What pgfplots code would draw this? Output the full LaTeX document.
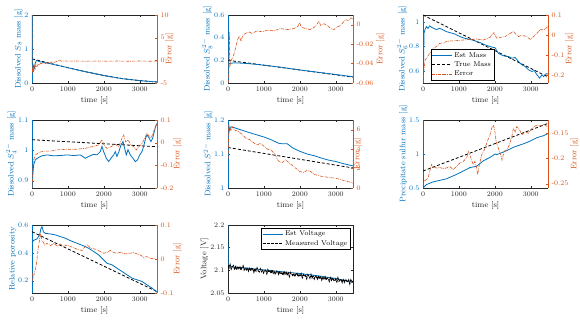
\documentclass[border=0pt]{standalone}
\usepackage{pgfplots}
\pgfplotsset{compat=1.18}
\definecolor{mblue}{rgb}{0,0.447,0.741}
\definecolor{morange}{rgb}{0.85,0.325,0.098}
\definecolor{mgray}{rgb}{0.15,0.15,0.15}
\tikzset{mult/.style={font=\fontsize{6}{7}\selectfont, inner sep=1pt, yshift=4pt}}
\pgfplotsset{
 base/.style={scale only axis, width=125pt, height=68pt, xmin=0, xmax=3480,
   xtick={0,1000,2000,3000}, xticklabels={0,1000,2000,3000},
   tick align=inside, major tick length=2pt,
   tick label style={font=\fontsize{7}{8}\selectfont},
   label style={font=\fontsize{8}{9}\selectfont},
   scaled ticks=false, yticklabel style={/pgf/number format/fixed, /pgf/number format/assume math mode=true},
   axis line style={line width=0.4pt}, anchor=south west,
   legend image code/.code={\draw[#1] (0cm,0cm) -- (0.7cm,0cm);}},
 L/.style={base, axis x line*=box, axis y line*=left, xlabel={time [s]},
   x axis line style={mgray}, y axis line style={mblue},
   xtick style={mgray}, ytick style={mblue},
   yticklabel style={mblue}, ylabel style={mblue},
   xticklabel style={mgray}, xlabel style={mgray}, ylabel shift=-5pt, xlabel shift=-2pt},
 R/.style={base, axis x line=none, axis y line*=right,
   y axis line style={morange}, ytick style={morange},
   yticklabel style={morange}, ylabel style={morange}, ylabel={Error [g]}},
 bl/.style={mblue, line width=0.8pt},
 bk/.style={black, line width=0.8pt, dash pattern=on 3pt off 2pt},
 er/.style={morange, line width=0.6pt, dash pattern=on 3pt off 1pt on 0.6pt off 1pt},
}
\begin{document}
\begin{tikzpicture}
\path[use as bounding box] (0,0) rectangle (580pt,319pt);

% ---------- Panel 1: S8 ----------
\begin{axis}[L, at={(32pt,236pt)}, ymin=0, ymax=2, ytick={0,1,2}, ylabel={Dissolved $S_8$ mass [g]}]
\addplot[bk] coordinates {(0,0.71) (500,0.58) (1000,0.45) (1500,0.33) (2000,0.22) (2500,0.13) (3000,0.07) (3480,0.03)};
\addplot[bl] coordinates {(0,2.0) (4,1.2) (8,0.62) (15,0.45) (25,0.55) (40,0.5) (55,0.4) (70,0.46) (90,0.58) (120,0.66) (160,0.65) (200,0.63) (250,0.62) (300,0.61) (350,0.6) (400,0.59) (450,0.58) (500,0.57) (600,0.545) (700,0.52) (800,0.5) (900,0.475) (1000,0.45) (1500,0.33) (2000,0.22) (2500,0.13) (3000,0.07) (3480,0.03)};
\node[mult, mblue, anchor=south west] at (rel axis cs:0,1) {$\times10^{-4}$};
\end{axis}
\begin{axis}[R, ylabel shift=-10pt, at={(32pt,236pt)}, ymin=-5, ymax=10, ytick={-5,0,5,10}]
\addplot[er] coordinates {(0,10) (3,-1) (8,-2.5) (15,-1.8) (25,-3) (35,-1.5) (50,-2.2) (70,-1.2) (90,-1.8) (110,-1.0) (140,-1.5) (170,-0.9) (200,-1.1) (240,-0.6) (280,-0.8) (320,-0.5) (380,-0.7) (440,-0.4) (500,-0.6) (560,-0.3) (620,-0.5) (700,-0.2) (760,0.1) (820,-0.2) (900,-0.1) (1000,-0.2) (1200,-0.15) (1500,-0.2) (1800,-0.15) (2100,-0.2) (2400,-0.15) (2700,-0.2) (3000,-0.15) (3300,-0.2) (3480,-0.15)};
\node[mult, morange, anchor=south west] at (rel axis cs:1,1) {$\times10^{-3}$};
\end{axis}

% ---------- Panel 2: S8^2- ----------
\begin{axis}[L, at={(228pt,236pt)}, ymin=0, ymax=0.6, ytick={0,0.2,0.4,0.6}, ylabel={Dissolved $S_8^{2-}$ mass [g]}]
\addplot[bk] coordinates {(0,0.2) (3480,0.052)};
\addplot[bl] coordinates {(0,0.17) (100,0.175) (200,0.178) (300,0.176) (400,0.175) (500,0.172) (600,0.17) (800,0.164) (1000,0.157) (1500,0.138) (2000,0.115) (2500,0.095) (3000,0.075) (3480,0.055)};
\end{axis}
\begin{axis}[R, ylabel shift=-4pt, at={(228pt,236pt)}, ymin=-0.06, ymax=0.01, ytick={-0.06,-0.04,-0.02,0}]
\addplot[er] coordinates {(0,-0.06) (19,-0.057) (37,-0.0073) (56,-0.042) (84,-0.037) (130,-0.034) (177,-0.029) (223,-0.022) (270,-0.015) (316,-0.012) (363,-0.017) (409,-0.011) (484,-0.009) (577,-0.0073) (670,-0.009) (809,-0.0063) (949,-0.0073) (1088,-0.0057) (1275,-0.0063) (1461,-0.004) (1647,-0.005) (1833,-0.004) (1945,-0.0017) (1991,0.0023) (2038,-0.0023) (2159,-0.004) (2299,-0.005) (2410,-0.0023) (2484,0.001) (2531,0.0037) (2578,-0.0007) (2671,0.001) (2764,-0.0007) (2857,-0.004) (2950,-0.005) (3043,-0.0023) (3136,-0.0007) (3210,0.0027) (3275,0.005) (3368,0.0043) (3415,0.007) (3480,0.006)};
\end{axis}

% ---------- Panel 3: S6^2- ----------
\begin{axis}[L, at={(423pt,236pt)}, ymin=0.5, ymax=1.06, ytick={0.6,0.8,1}, ylabel={Dissolved $S_6^{2-}$ mass [g]}]
\addplot[bk] coordinates {(0,1.06) (3480,0.55)};
\addplot[bl] coordinates {(0,0.5) (9,0.51) (28,0.91) (56,0.94) (93,0.964) (140,0.95) (187,0.97) (233,0.96) (299,0.95) (373,0.94) (466,0.95) (560,0.937) (653,0.923) (746,0.915) (886,0.904) (1026,0.882) (1166,0.868) (1306,0.86) (1446,0.847) (1586,0.833) (1726,0.814) (1866,0.8) (2006,0.79) (2099,0.745) (2192,0.73) (2285,0.72) (2379,0.718) (2472,0.704) (2565,0.71) (2658,0.677) (2751,0.65) (2845,0.636) (2938,0.608) (3031,0.595) (3097,0.603) (3172,0.567) (3246,0.54) (3311,0.567) (3358,0.553) (3423,0.575) (3480,0.575)};
\end{axis}
\begin{axis}[R, ylabel shift=-6pt, at={(423pt,236pt)}, ymin=-0.24, ymax=0.1, ytick={-0.2,-0.1,0,0.1},
  legend style={font=\fontsize{7}{8}\selectfont, draw=black, line width=0.4pt, at={(0.06,0.04)}, anchor=south west, inner sep=1pt, row sep=-1pt},
  legend cell align=left]
\addlegendimage{bl}\addlegendentry{Est Mass}
\addlegendimage{bk}\addlegendentry{True Mass}
\addplot[er] coordinates {(0,-0.24) (9,-0.225) (28,-0.17) (60,-0.125) (93,-0.117) (187,-0.092) (280,-0.067) (373,-0.058) (466,-0.042) (560,-0.04) (653,-0.033) (746,-0.03) (933,-0.028) (1119,-0.025) (1306,-0.022) (1493,-0.02) (1679,-0.025) (1866,-0.012) (1978,0.012) (2052,-0.017) (2145,-0.012) (2285,-0.008) (2425,0.008) (2519,0.017) (2565,0.008) (2658,-0.008) (2751,-0.001) (2891,-0.008) (2984,-0.022) (3078,-0.008) (3172,0.008) (3265,0.028) (3358,0.025) (3423,0.033) (3480,0.045)};
\addlegendentry{Error}
\end{axis}

% ---------- Panel 4: S4^2- ----------
\begin{axis}[L, at={(32pt,131pt)}, ymin=0.876, ymax=1.1, ytick={0.9,1,1.1}, ylabel={Dissolved $S_4^{2-}$ mass [g]}]
\addplot[bk] coordinates {(0,1.035) (3480,1.012)};
\addplot[bl] coordinates {(0,0.88) (9,0.892) (28,0.93) (46,0.952) (93,0.969) (186,0.977) (278,0.982) (418,0.985) (603,0.982) (789,0.983) (974,0.985) (1160,0.983) (1345,0.985) (1484,0.974) (1577,0.98) (1716,0.987) (1809,0.985) (1902,0.996) (1948,1.013) (1994,0.996) (2069,0.974) (2134,0.963) (2198,0.974) (2273,0.985) (2319,0.996) (2365,0.98) (2421,0.996) (2477,1.018) (2533,1.029) (2579,1.007) (2626,0.985) (2672,1.002) (2737,0.985) (2811,0.974) (2876,0.963) (2941,0.969) (2997,0.985) (3062,0.996) (3108,1.013) (3163,1.04) (3200,1.051) (3265,1.04) (3311,1.029) (3358,1.04) (3404,1.062) (3441,1.078) (3480,1.089)};
\end{axis}
\begin{axis}[R, ylabel shift=-7pt, at={(32pt,131pt)}, ymin=-0.2, ymax=0.1, ytick={-0.2,-0.1,0,0.1}]
\addplot[er] coordinates {(0,-0.2) (9,-0.186) (28,-0.098) (46,-0.076) (93,-0.054) (186,-0.044) (325,-0.037) (510,-0.037) (696,-0.032) (974,-0.029) (1252,-0.029) (1484,-0.025) (1670,-0.018) (1855,-0.01) (1948,0.012) (2013,-0.013) (2087,-0.025) (2198,-0.018) (2319,-0.007) (2412,-0.018) (2505,0.019) (2551,0.034) (2607,0.004) (2672,0.012) (2756,-0.01) (2830,-0.018) (2904,-0.032) (2969,-0.018) (3034,-0.01) (3090,0.004) (3155,0.026) (3200,0.041) (3265,0.026) (3321,0.022) (3386,0.048) (3432,0.07) (3480,0.085)};
\end{axis}

% ---------- Panel 5: S^2- ----------
\begin{axis}[L, at={(228pt,131pt)}, ymin=1, ymax=1.2, ytick={1,1.1,1.2}, ylabel={Dissolved $S^{2-}$ mass [g]}]
\addplot[bk] coordinates {(0,1.119) (3480,1.059)};
\addplot[bl] coordinates {(0,1.0) (20,1.185) (47,1.171) (84,1.18) (158,1.178) (500,1.166) (1000,1.15) (1200,1.142) (1400,1.132) (1500,1.13) (1650,1.13) (1800,1.118) (2000,1.108) (2200,1.1) (2400,1.095) (2600,1.088) (2800,1.082) (3000,1.078) (3200,1.072) (3480,1.065)};
\node[mult, mblue, anchor=south west] at (rel axis cs:0,1) {$\times10^{-4}$};
\end{axis}
\begin{axis}[R, ylabel shift=-14pt, at={(228pt,131pt)}, ymin=0, ymax=7, ytick={0,2,4,6}]
\addplot[er] coordinates {(0,3.0) (9,3.3) (20,6.5) (30,5.8) (50,6.2) (80,5.9) (120,6.3) (170,6.0) (230,5.9) (300,5.8) (400,5.5) (500,5.1) (600,5.0) (700,4.7) (800,4.4) (900,4.6) (1000,4.3) (1100,4.0) (1200,3.9) (1300,3.5) (1400,2.8) (1500,2.6) (1600,2.9) (1700,2.6) (1800,2.3) (1900,2.0) (2000,1.7) (2100,1.6) (2200,1.8) (2300,1.7) (2400,1.4) (2500,1.3) (2600,1.2) (2800,1.1) (3000,1.0) (3200,0.8) (3400,0.6) (3480,0.5)};
\node[mult, morange, anchor=south west] at (rel axis cs:1,1) {$\times10^{-4}$};
\end{axis}

% ---------- Panel 6: precipitate ----------
\begin{axis}[L, at={(423pt,131pt)}, ymin=0.5, ymax=1.5, ytick={0.5,1,1.5}, ylabel={Precipitate sulfur mass [g]}]
\addplot[bk] coordinates {(0,0.75) (3480,1.45)};
\addplot[bl] coordinates {(0,0.5) (93,0.55) (280,0.59) (653,0.635) (933,0.7) (1119,0.75) (1306,0.8) (1493,0.82) (1679,0.9) (1866,0.95) (2006,1.0) (2052,0.99) (2145,1.01) (2332,1.05) (2519,1.1) (2798,1.15) (2984,1.19) (3172,1.24) (3358,1.27) (3480,1.3)};
\end{axis}
\begin{axis}[R, ylabel shift=-5pt, at={(423pt,131pt)}, ymin=-0.2586, ymax=-0.1237, ytick={-0.25,-0.2,-0.15}]
\addplot[er] coordinates {(0,-0.255) (9,-0.249) (47,-0.244) (93,-0.242) (140,-0.239) (187,-0.226) (233,-0.212) (280,-0.216) (373,-0.219) (466,-0.218) (560,-0.22) (653,-0.219) (746,-0.216) (840,-0.222) (933,-0.216) (1026,-0.209) (1119,-0.206) (1213,-0.199) (1259,-0.186) (1306,-0.193) (1352,-0.203) (1399,-0.212) (1446,-0.206) (1493,-0.219) (1520,-0.232) (1558,-0.216) (1632,-0.193) (1726,-0.18) (1791,-0.166) (1866,-0.153) (1912,-0.14) (1959,-0.134) (1996,-0.143) (2034,-0.166) (2099,-0.18) (2164,-0.193) (2201,-0.203) (2257,-0.186) (2332,-0.183) (2407,-0.173) (2472,-0.157) (2519,-0.14) (2565,-0.147) (2612,-0.137) (2686,-0.143) (2752,-0.153) (2845,-0.147) (2938,-0.15) (3003,-0.143) (3078,-0.137) (3172,-0.134) (3265,-0.135) (3358,-0.133) (3423,-0.135) (3480,-0.137)};
\end{axis}

% ---------- Panel 7: porosity ----------
\begin{axis}[L, at={(32pt,26pt)}, ymin=0.112, ymax=0.6, ytick={0.2,0.4,0.6}, ylabel={Relative porosity}]
\addplot[bk] coordinates {(0,0.552) (3480,0.122)};
\addplot[bl] coordinates {(0,0.47) (19,0.48) (46,0.49) (139,0.5) (213,0.53) (250,0.576) (278,0.588) (320,0.55) (371,0.54) (510,0.536) (650,0.529) (789,0.517) (928,0.505) (1067,0.488) (1252,0.469) (1438,0.45) (1577,0.433) (1716,0.41) (1855,0.386) (1994,0.35) (2087,0.326) (2226,0.314) (2365,0.29) (2504,0.267) (2643,0.243) (2782,0.219) (2922,0.207) (3061,0.195) (3200,0.171) (3339,0.148) (3480,0.117)};
\end{axis}
\begin{axis}[R, ylabel shift=-7pt, at={(32pt,26pt)}, ymin=-0.1, ymax=0.1, ytick={-0.1,0,0.1}]
\addplot[er] coordinates {(0,-0.04) (9,-0.046) (19,-0.061) (46,-0.051) (74,-0.037) (102,-0.027) (139,-0.002) (167,0.027) (195,0.046) (223,0.066) (241,0.074) (269,0.056) (306,0.051) (352,0.041) (418,0.046) (510,0.039) (603,0.046) (696,0.039) (789,0.044) (881,0.037) (974,0.041) (1113,0.035) (1252,0.029) (1391,0.025) (1484,0.037) (1549,0.041) (1623,0.032) (1762,0.029) (1902,0.022) (1994,0.017) (2087,0.019) (2180,0.025) (2273,0.019) (2365,0.017) (2458,0.02) (2597,0.015) (2736,0.017) (2829,0.019) (2922,0.015) (3015,0.012) (3108,0.005) (3200,0.007) (3293,0.002) (3386,0.001) (3480,-0.002)};
\end{axis}

% ---------- Panel 8: voltage ----------
\begin{axis}[base, at={(228pt,26pt)}, ymin=2.05, ymax=2.2, ytick={2.05,2.1,2.15,2.2},
  axis line style={mgray}, every tick/.style={mgray}, tick label style={mgray}, label style={mgray},
  xlabel={time [s]}, ylabel={Voltage [V]}, ylabel shift=-5pt, xlabel shift=-2pt,
  legend style={font=\fontsize{7}{8}\selectfont, draw=black, line width=0.4pt, at={(0.98,0.96)}, anchor=north east, inner sep=1pt, row sep=-1pt},
  legend cell align=left]
\addplot[bl] coordinates {(0,2.2) (5,2.112) (100,2.108) (500,2.105) (1000,2.101) (1500,2.097) (2000,2.093) (2500,2.088) (3000,2.082) (3480,2.074)};
\addlegendentry{Est Voltage}
\addplot[black, line width=1pt, dash pattern=on 3pt off 1pt] coordinates {
(0,2.1110) (30,2.1057) (60,2.1124) (90,2.1031) (120,2.1078) (150,2.1105) (180,2.1033) (210,2.1080) (240,2.1007) (270,2.1084)
(300,2.1041) (330,2.1088) (360,2.1005) (390,2.1062) (420,2.1099) (450,2.1007) (480,2.1044) (510,2.1011) (540,2.1058) (570,2.0985)
(600,2.1042) (630,2.0989) (660,2.1056) (690,2.1023) (720,2.0960) (750,2.1038) (780,2.0985) (810,2.1052) (840,2.0989) (870,2.0966)
(900,2.1033) (930,2.0970) (960,2.0997) (990,2.0944) (1020,2.1011) (1050,2.0999) (1080,2.0926) (1110,2.1013) (1140,2.0960) (1170,2.0987)
(1200,2.0934) (1230,2.1011) (1260,2.0938) (1290,2.0965) (1320,2.0912) (1350,2.0980) (1380,2.0987) (1410,2.0914) (1440,2.0961) (1470,2.0918)
(1500,2.0945) (1530,2.0892) (1560,2.0979) (1590,2.0916) (1620,2.0953) (1650,2.0891) (1680,2.0938) (1710,2.0865) (1740,2.0952) (1770,2.0919)
(1800,2.0886) (1830,2.0933) (1860,2.0860) (1890,2.0917) (1920,2.0944) (1950,2.0862) (1980,2.0899) (2010,2.0866) (2040,2.0923) (2070,2.0840)
(2100,2.0907) (2130,2.0864) (2160,2.0891) (2190,2.0818) (2220,2.0905) (2250,2.0873) (2280,2.0830) (2310,2.0907) (2340,2.0834) (2370,2.0871)
(2400,2.0808) (2430,2.0875) (2460,2.0852) (2490,2.0809) (2520,2.0886) (2550,2.0814) (2580,2.0851) (2610,2.0788) (2640,2.0855) (2670,2.0812)
(2700,2.0859) (2730,2.0786) (2760,2.0833) (2790,2.0820) (2820,2.0757) (2850,2.0835) (2880,2.0782) (2910,2.0839) (2940,2.0786) (2970,2.0763)
(3000,2.0810) (3030,2.0747) (3060,2.0834) (3090,2.0761) (3120,2.0788) (3150,2.0806) (3180,2.0733) (3210,2.0790) (3240,2.0737) (3270,2.0804)
(3300,2.0771) (3330,2.0738) (3360,2.0785) (3390,2.0702) (3420,2.0789) (3450,2.0737) (3480,2.0764)};
\addlegendentry{Measured Voltage}
\end{axis}
\end{tikzpicture}
\end{document}
